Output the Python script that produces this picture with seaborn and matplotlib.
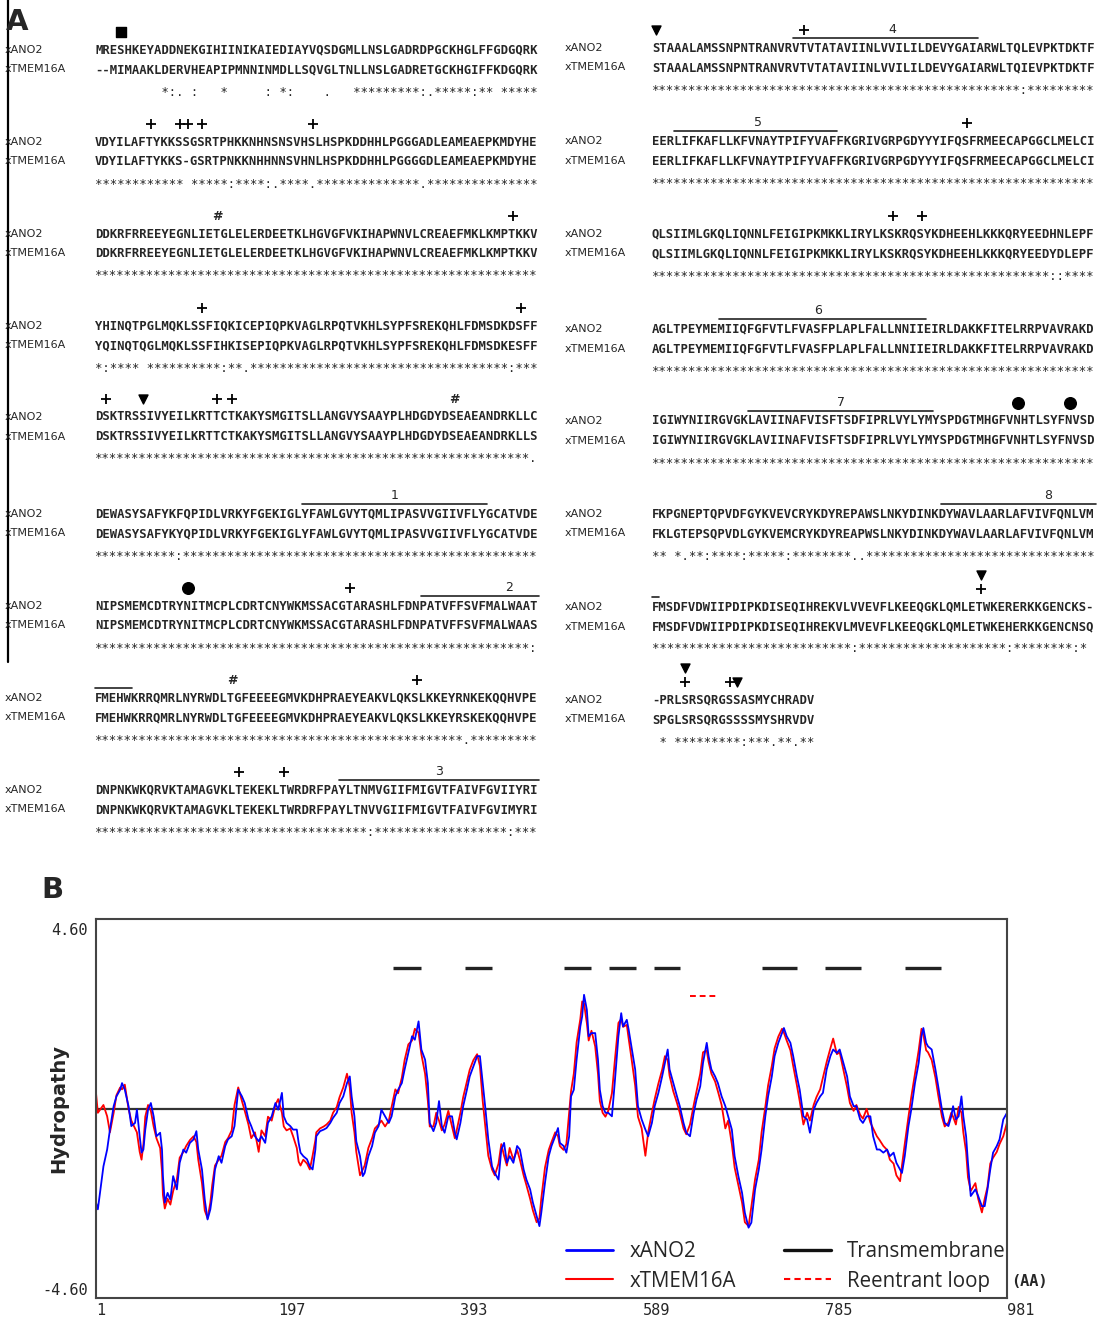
import matplotlib
matplotlib.use('Agg')
import numpy as np
import pandas as pd
import matplotlib.pyplot as plt
from matplotlib.lines import Line2D
import seaborn as sns

# #
# Panel A: alignment blocks (left column 0-8, right column 9-16)
ano2_rows = [
    "MRESHKEYADDNEKGIHIINIKAIEDIAYVQSDGMLLNSLGADRDPGCKHGLFFGDGQRK",
    "VDYILAFTYKKSSGSRTPHKKNHNSNSVHSLHSPKDDHHLPGGGADLEAMEAEPKMDYHE",
    "DDKRFRREEYEGNLIETGLELERDEETKLHGVGFVKIHAPWNVLCREAEFMKLKMPTKKV",
    "YHINQTPGLMQKLSSFIQKICEPIQPKVAGLRPQTVKHLSYPFSREKQHLFDMSDKDSFF",
    "DSKTRSSIVYEILKRTTCTKAKYSMGITSLLANGVYSAAYPLHDGDYDSEAEANDRKLLC",
    "DEWASYSAFYKFQPIDLVRKYFGEKIGLYFAWLGVYTQMLIPASVVGIIVFLYGCATVDE",
    "NIPSMEMCDTRYNITMCPLCDRTCNYWKMSSACGTARASHLFDNPATVFFSVFMALWAAT",
    "FMEHWKRRQMRLNYRWDLTGFEEEEGMVKDHPRAEYEAKVLQKSLKKEYRNKEKQQHVPE",
    "DNPNKWKQRVKTAMAGVKLTEKEKLTWRDRFPAYLTNMVGIIFMIGVTFAIVFGVIIYRI",
    "STAAALAMSSNPNTRANVRVTVTATAVIINLVVILILDEVYGAIARWLTQLEVPKTDKTF",
    "EERLIFKAFLLKFVNAYTPIFYVAFFKGRIVGRPGDYYYIFQSFRMEECAPGGCLMELCI",
    "QLSIIMLGKQLIQNNLFEIGIPKMKKLIRYLKSKRQSYKDHEEHLKKKQRYEEDHNLEPF",
    "AGLTPEYMEMIIQFGFVTLFVASFPLAPLFALLNNIIEIRLDAKKFITELRRPVAVRAKD",
    "IGIWYNIIRGVGKLAVIINAFVISFTSDFIPRLVYLYMYSPDGTMHGFVNHTLSYFNVSD",
    "FKPGNEPTQPVDFGYKVEVCRYKDYREPAWSLNKYDINKDYWAVLAARLAFVIVFQNLVM",
    "FMSDFVDWIIPDIPKDISEQIHREKVLVVEVFLKEEQGKLQMLETWKERERKKGENCKS-",
    "-PRLSRSQRGSSASMYCHRADV",
]
tmem_rows = [
    "--MIMAAKLDERVHEAPIPMNNINMDLLSQVGLTNLLNSLGADRETGCKHGIFFKDGQRK",
    "VDYILAFTYKKS-GSRTPNKKNHHNNSVHNLHSPKDDHHLPGGGGDLEAMEAEPKMDYHE",
    "DDKRFRREEYEGNLIETGLELERDEETKLHGVGFVKIHAPWNVLCREAEFMKLKMPTKKV",
    "YQINQTQGLMQKLSSFIHKISEPIQPKVAGLRPQTVKHLSYPFSREKQHLFDMSDKESFF",
    "DSKTRSSIVYEILKRTTCTKAKYSMGITSLLANGVYSAAYPLHDGDYDSEAEANDRKLLS",
    "DEWASYSAFYKYQPIDLVRKYFGEKIGLYFAWLGVYTQMLIPASVVGIIVFLYGCATVDE",
    "NIPSMEMCDTRYNITMCPLCDRTCNYWKMSSACGTARASHLFDNPATVFFSVFMALWAAS",
    "FMEHWKRRQMRLNYRWDLTGFEEEEGMVKDHPRAEYEAKVLQKSLKKEYRSKEKQQHVPE",
    "DNPNKWKQRVKTAMAGVKLTEKEKLTWRDRFPAYLTNVVGIIFMIGVTFAIVFGVIMYRI",
    "STAAALAMSSNPNTRANVRVTVTATAVIINLVVILILDEVYGAIARWLTQIEVPKTDKTF",
    "EERLIFKAFLLKFVNAYTPIFYVAFFKGRIVGRPGDYYYIFQSFRMEECAPGGCLMELCI",
    "QLSIIMLGKQLIQNNLFEIGIPKMKKLIRYLKSKRQSYKDHEEHLKKKQRYEEDYDLEPF",
    "AGLTPEYMEMIIQFGFVTLFVASFPLAPLFALLNNIIEIRLDAKKFITELRRPVAVRAKD",
    "IGIWYNIIRGVGKLAVIINAFVISFTSDFIPRLVYLYMYSPDGTMHGFVNHTLSYFNVSD",
    "FKLGTEPSQPVDLGYKVEMCRYKDYREAPWSLNKYDINKDYWAVLAARLAFVIVFQNLVM",
    "FMSDFVDWIIPDIPKDISEQIHREKVLMVEVFLKEEQGKLQMLETWKEHERKKGENCNSQ",
    "SPGLSRSQRGSSSSMYSHRVDV",
]
cons_rows = [
    " " * 9 + "*:. :" + " " * 3 + "*" + " " * 5 + ": *:" + " " * 4 + "." + " " * 3
    + "*" * 9 + ":." + "*" * 5 + ":** " + "*" * 5,
    "*" * 12 + " " + "*" * 5 + ":" + "*" * 4 + ":." + "*" * 4 + "." + "*" * 14 + "." + "*" * 15,
    "*" * 60,
    "*:**** " + "*" * 10 + ":**." + "*" * 35 + ":***",
    "*" * 59 + ".",
    "*" * 11 + ":" + "*" * 48,
    "*" * 59 + ":",
    "*" * 50 + "." + "*" * 9,
    "*" * 37 + ":" + "*" * 18 + ":***",
    "*" * 50 + ":" + "*" * 9,
    "*" * 60,
    "*" * 54 + "::" + "*" * 4,
    "*" * 60,
    "*" * 60,
    "** *.**:****:*****:********.." + "*" * 31,
    "*" * 27 + ":" + "*" * 20 + ":" + "*" * 8 + ":* ",
    " * *********:***.**.**",
]
# (block, column, symbol, tier)
site_marks = [
    (0, 3, 's', 0),
    (1, 7, '+', 0), (1, 11, '+', 0), (1, 12, '+', 0), (1, 14, '+', 0), (1, 29, '+', 0),
    (2, 16, '#', 0), (2, 56, '+', 0),
    (3, 14, '+', 0), (3, 57, '+', 0),
    (4, 1, '+', 0), (4, 6, 'v', 0), (4, 16, '+', 0), (4, 18, '+', 0), (4, 48, '#', 0),
    (6, 12, 'o', 0), (6, 34, '+', 0),
    (7, 18, '#', 0), (7, 43, '+', 0),
    (8, 19, '+', 0), (8, 25, '+', 0),
    (9, 0, 'v', 0), (9, 20, '+', 0),
    (10, 42, '+', 0),
    (11, 32, '+', 0), (11, 36, '+', 0),
    (13, 49, 'o', 0), (13, 56, 'o', 0),
    (15, 44, '+', 0), (15, 44, 'v', 1),
    (16, 4, '+', 0), (16, 4, 'v', 1), (16, 10, '+', 0), (16, 11, 'v', 0),
]
# (block, first col, last col, label, label col)
tm_bars = [
    (5, 28, 52, '1', 40),
    (6, 44, 59, '2', 55.5),
    (7, 0, 4, '', None),
    (8, 33, 59, '3', 46),
    (9, 19, 43, '4', 32),
    (10, 3, 24, '5', 13.8),
    (12, 9, 36, '6', 22),
    (13, 13, 37, '7', 25),
    (14, 39, 59, '8', 53),
    (15, 0, 0, '', None),
]

# #
# Panel B: hydropathy profiles
aa_pos = [
    1, 3, 9, 13, 16, 20, 23, 27, 29, 32, 36, 39, 43, 45, 48, 50, 52, 54, 57, 60,
    63, 66, 70, 72, 73, 75, 78, 81, 84, 88, 91, 95, 98, 102, 106, 109, 111, 115, 118, 121,
    124, 126, 129, 133, 136, 140, 143, 147, 150, 154, 158, 161, 165, 168, 172, 176, 179, 183, 186, 190,
    194, 197, 201, 203, 206, 210, 213, 217, 219, 221, 224, 228, 231, 234, 237, 238, 242, 246, 249, 253,
    256, 260, 263, 267, 271, 274, 276, 279, 281, 285, 288, 290, 294, 298, 301, 305, 308, 312, 316, 319,
    323, 326, 330, 333, 337, 341, 344, 348, 351, 355, 358, 360, 364, 367, 370, 373, 376, 380, 384, 387,
    389, 393, 396, 400, 403, 407, 411, 414, 417, 420, 423, 427, 430, 434, 437, 440, 443, 446, 450, 454,
    457, 461, 464, 468, 471, 475, 478, 480, 484, 488, 491, 495, 498, 500, 504, 507, 510, 512, 515, 518,
    522, 524, 526, 529, 531, 534, 538, 541, 543, 546, 549, 552, 556, 559, 563, 566, 568, 572, 574, 577,
    581, 584, 588, 592, 595, 599, 602, 606, 610, 613, 616, 618, 622, 626, 629, 633, 636, 640, 644, 647,
    651, 654, 658, 660, 663, 667, 670, 674, 678, 681, 685, 688, 692, 696, 699, 703, 706, 710, 714, 717,
    721, 724, 728, 731, 735, 739, 741, 744, 748, 751, 755, 758, 762, 766, 769, 773, 776, 780, 783, 787,
    791, 794, 798, 801, 805, 809, 812, 816, 819, 823, 826, 830, 834, 837, 841, 844, 848, 852, 855, 859,
    862, 866, 868, 871, 875, 878, 882, 886, 889, 891, 894, 896, 900, 904, 907, 911, 914, 918, 921, 923,
    926, 929, 932, 934, 937, 939, 942, 947, 950, 954, 957, 960, 963, 966, 970, 973, 977, 981,
]
ano2_hyd = [
    -2.40, -2.57, -1.47, -1.04, -0.53, 0.07, 0.32, 0.49, 0.66, 0.49, 0.07, -0.44, -0.36, -0.02, -0.70, -1.12, -1.04, -0.53, -0.02, 0.15,
    -0.19, -0.70, -0.61, -1.04, -1.72, -2.40, -2.15, -2.32, -1.72, -2.06, -1.38, -1.04, -1.12, -0.87, -0.78, -0.57, -1.04, -1.55, -2.32, -2.83,
    -2.57, -2.23, -1.55, -1.21, -1.38, -0.95, -0.78, -0.70, -0.44, 0.49, 0.32, 0.15, -0.27, -0.44, -0.70, -0.83, -0.70, -0.87, -0.36, -0.19,
    0.15, -0.02, 0.41, -0.19, -0.36, -0.44, -0.53, -0.53, -0.87, -1.12, -1.21, -1.29, -1.47, -1.55, -1.04, -0.70, -0.57, -0.53, -0.49, -0.36,
    -0.23, -0.10, 0.15, 0.32, 0.66, 0.83, 0.32, -0.19, -0.83, -1.21, -1.72, -1.64, -1.21, -0.95, -0.61, -0.44, -0.02, -0.19, -0.36, -0.19,
    0.32, 0.49, 0.66, 1.01, 1.43, 1.86, 1.77, 2.24, 1.52, 1.26, 0.66, -0.36, -0.57, -0.36, 0.20, -0.44, -0.61, -0.19, -0.19, -0.61,
    -0.78, -0.36, 0.07, 0.49, 0.83, 1.09, 1.35, 1.35, 0.66, -0.02, -0.78, -1.47, -1.64, -1.81, -1.04, -0.87, -1.38, -1.21, -1.38, -0.95,
    -1.04, -1.55, -1.81, -2.06, -2.40, -2.74, -3.00, -2.66, -1.89, -1.21, -0.95, -0.70, -0.49, -0.87, -0.95, -1.12, -0.70, 0.32, 0.49, 1.26,
    2.11, 2.37, 2.92, 2.54, 1.86, 1.94, 1.94, 1.26, 0.49, 0.07, -0.10, -0.10, -0.19, 0.66, 1.86, 2.45, 2.11, 2.28, 2.03, 1.60,
    1.01, 0.07, -0.27, -0.53, -0.70, -0.36, 0.07, 0.41, 0.83, 1.18, 1.52, 1.01, 0.66, 0.32, 0.07, -0.36, -0.61, -0.70, -0.10, 0.24,
    0.58, 1.18, 1.69, 1.35, 1.01, 0.83, 0.66, 0.32, 0.07, -0.19, -0.53, -1.21, -1.72, -2.15, -2.66, -3.04, -2.91, -2.06, -1.55, -1.04,
    -0.19, 0.32, 0.83, 1.35, 1.69, 1.94, 2.07, 1.86, 1.69, 1.35, 0.83, 0.49, -0.19, -0.27, -0.61, -0.02, 0.15, 0.32, 0.41, 1.01,
    1.35, 1.52, 1.43, 1.52, 1.18, 0.83, 0.32, 0.07, 0.07, -0.27, -0.36, -0.19, -0.19, -0.70, -1.04, -1.04, -1.12, -1.04, -1.21, -1.12,
    -1.38, -1.55, -1.64, -1.21, -0.44, -0.02, 0.66, 1.18, 1.86, 2.07, 1.69, 1.60, 1.52, 1.01, 0.58, -0.02, -0.36, -0.44, -0.19, 0.07,
    -0.27, -0.19, 0.32, -0.19, -0.70, -1.38, -2.23, -2.06, -2.23, -2.49, -2.49, -2.06, -1.55, -1.12, -0.95, -0.78, -0.27, -0.10,
]
tmem_hyd = [
    0.41, -0.10, 0.10, -0.19, -0.60, -0.10, 0.35, 0.55, 0.50, 0.62, 0.00, -0.30, -0.50, -0.60, -1.10, -1.30, -0.90, -0.20, 0.10, -0.05,
    -0.45, -0.75, -1.00, -1.60, -2.20, -2.55, -2.30, -2.45, -2.10, -1.80, -1.25, -1.10, -0.95, -0.80, -0.70, -0.85, -1.30, -1.90, -2.60, -2.80,
    -2.40, -1.95, -1.45, -1.30, -1.20, -0.85, -0.75, -0.55, 0.10, 0.55, 0.20, -0.05, -0.40, -0.75, -0.60, -1.10, -0.55, -0.70, -0.20, -0.30,
    0.10, 0.25, -0.10, -0.45, -0.55, -0.50, -0.70, -1.00, -1.35, -1.45, -1.30, -1.40, -1.55, -1.20, -0.80, -0.60, -0.50, -0.45, -0.40, -0.30,
    -0.10, 0.05, 0.30, 0.55, 0.90, 0.55, -0.10, -0.60, -1.10, -1.70, -1.55, -1.45, -1.00, -0.75, -0.50, -0.40, -0.30, -0.45, -0.30, 0.05,
    0.50, 0.40, 0.80, 1.25, 1.65, 1.75, 2.05, 1.95, 1.40, 0.90, 0.20, -0.45, -0.45, -0.10, -0.30, -0.55, -0.40, -0.05, -0.45, -0.75,
    -0.55, -0.10, 0.30, 0.70, 1.00, 1.25, 1.40, 1.10, 0.20, -0.50, -1.20, -1.55, -1.70, -1.40, -0.90, -1.20, -1.45, -1.00, -1.30, -1.05,
    -1.30, -1.70, -1.95, -2.30, -2.60, -2.90, -2.80, -2.30, -1.50, -1.05, -0.85, -0.60, -0.70, -0.95, -1.05, -0.90, -0.10, 0.45, 0.90, 1.70,
    2.30, 2.75, 2.70, 2.20, 1.75, 2.00, 1.60, 0.90, 0.20, -0.10, -0.20, -0.05, 0.40, 1.20, 2.20, 2.30, 2.10, 2.15, 1.80, 1.30,
    0.60, -0.20, -0.50, -1.20, -0.60, -0.10, 0.25, 0.65, 1.00, 1.35, 1.25, 0.85, 0.45, 0.15, -0.10, -0.50, -0.65, -0.40, 0.10, 0.45,
    0.90, 1.45, 1.50, 1.20, 0.90, 0.70, 0.45, 0.10, -0.50, -0.30, -0.90, -1.50, -1.95, -2.40, -2.90, -3.00, -2.50, -1.80, -1.30, -0.60,
    0.05, 0.60, 1.10, 1.55, 1.85, 2.05, 1.95, 1.75, 1.50, 1.10, 0.60, 0.20, -0.40, -0.10, -0.30, 0.10, 0.30, 0.50, 0.80, 1.20,
    1.55, 1.80, 1.40, 1.45, 1.00, 0.55, 0.15, -0.05, 0.10, -0.15, -0.25, 0.00, -0.35, -0.50, -0.70, -0.80, -0.95, -1.05, -1.30, -1.40,
    -1.70, -1.85, -1.45, -0.90, -0.20, 0.30, 0.90, 1.50, 2.05, 1.90, 1.50, 1.45, 1.25, 0.80, 0.35, -0.20, -0.45, -0.35, -0.10, -0.20,
    -0.40, 0.05, -0.10, -0.60, -1.10, -1.75, -2.10, -1.90, -2.30, -2.65, -2.30, -2.00, -1.40, -1.25, -1.10, -0.90, -0.70, -0.35,
]
tm_starts = [321, 398, 504, 553, 601, 717, 785, 871]
tm_ends = [351, 427, 533, 582, 629, 755, 824, 910]
reentrant_span = [640, 668]
tm_level = 3.6
reentrant_level = 2.9
x_ticks = [1, 197, 393, 589, 785, 981]


sns.set_style('white')
plt.rcParams['font.family'] = ['DejaVu Sans']

fig = plt.figure(figsize=(11, 13.18), dpi=100)

# overlay in pixel coordinates for the alignment text
top = fig.add_axes([0, 0, 1, 1])
top.set_xlim(0, 1100)
top.set_ylim(1318, 0)
top.axis('off')

row_y = [49, 141, 233, 325, 416, 513, 605, 697, 789,
         47, 140, 233, 328, 420, 513, 606, 699]
cw = 7.4
mono = 'DejaVu Sans Mono'
seq_fs = cw / 0.6021 * 72 / 100

def col_start(b):
    return 95 if b < 9 else 652

def col_x(b, c):
    return col_start(b) + (c + 0.5) * cw

for b, y in enumerate(row_y):
    x0 = col_start(b)
    nx = 5 if b < 9 else 565
    top.text(nx, y + 4, 'xANO2', fontsize=8, va='baseline')
    top.text(nx, y + 23.5, 'xTMEM16A', fontsize=8, va='baseline')
    top.text(x0, y + 4.5, ano2_rows[b], family=mono, fontsize=seq_fs, va='baseline',
             fontweight='bold')
    top.text(x0, y + 24, tmem_rows[b], family=mono, fontsize=seq_fs, va='baseline',
             fontweight='bold')
    top.text(x0, y + 46.5, cons_rows[b], family=mono, fontsize=seq_fs, va='baseline')

marker_kw = {'+': dict(marker='+', s=45, linewidths=1.3),
             'v': dict(marker='v', s=42),
             'o': dict(marker='o', s=70),
             's': dict(marker='s', s=45)}
for b, c, sym, tier in site_marks:
    x = col_x(b, c)
    y = row_y[b] - 17 - 14 * tier
    if sym == '#':
        top.text(x, y + 4, '#', fontsize=9, ha='center', va='baseline', fontweight='bold')
    else:
        top.scatter([x], [y], color='black', **marker_kw[sym])

for b, c1, c2, lab, lc in tm_bars:
    x0 = col_start(b)
    y = row_y[b] - 9
    top.plot([x0 + c1 * cw, x0 + (c2 + 1) * cw], [y, y], color='#222222', lw=1.2)
    if lab:
        top.text(col_x(b, lc), y - 5, lab, fontsize=9, ha='center', va='baseline')

top.plot([8, 8], [0, 662], color='black', lw=1.6)
top.text(6, 30, 'A', fontsize=21, fontweight='bold', va='baseline')
top.text(41, 898, 'B', fontsize=21, fontweight='bold', va='baseline')

# hydropathy plot
ax = fig.add_axes([96 / 1100, 20 / 1318, 911 / 1100, 379 / 1318])
hyd = pd.DataFrame({'aa': aa_pos, 'xANO2': ano2_hyd, 'xTMEM16A': tmem_hyd})
sns.lineplot(data=hyd, x='aa', y='xTMEM16A', color='#ff0000', lw=1.3, ax=ax)
sns.lineplot(data=hyd, x='aa', y='xANO2', color='#0000ff', lw=1.3, ax=ax)
ax.axhline(0, color='#333333', lw=1.6, zorder=1)
ax.hlines([tm_level] * len(tm_starts), tm_starts, tm_ends, color='#222222', lw=2.4)
ax.plot(reentrant_span, [reentrant_level] * 2, color='#ff0000', lw=1.4, ls=(0, (3, 2)))

ax.set_xlim(1, 981)
ax.set_ylim(-4.84, 4.86)
ax.set_xticks(x_ticks)
ax.set_xticklabels([str(t) for t in x_ticks], ha='left', family=mono, fontsize=11)
ax.set_yticks([-4.6, 4.6])
ax.set_yticklabels(['-4.60', '4.60'], family=mono, fontsize=11)
ax.tick_params(axis='x', direction='inout', length=5, width=1, pad=1)
ax.tick_params(axis='y', length=0, pad=6)
ax.set_xlabel('')
ax.set_ylabel('Hydropathy', fontsize=14, fontweight='bold')
ax.yaxis.set_label_coords(-0.031, 0.5)
for sp in ax.spines.values():
    sp.set_color('#444444')
    sp.set_linewidth(1.5)

handles = [Line2D([], [], color='#0000ff', lw=2),
           Line2D([], [], color='#ff0000', lw=1.5),
           Line2D([], [], color='#111111', lw=2.4),
           Line2D([], [], color='#ff0000', lw=1.5, ls=(0, (3, 2)))]
ax.legend(handles, ['xANO2', 'xTMEM16A', 'Transmembrane', 'Reentrant loop'],
          ncol=2, loc='lower right', bbox_to_anchor=(1.008, -0.005), frameon=False,
          prop={'family': 'Open Sans', 'size': 14.8}, handlelength=2.3,
          handletextpad=0.8, columnspacing=2.3, labelspacing=0.42, borderaxespad=0.0)

top.text(1011, 1281, '(AA)', family=mono, fontsize=11, fontweight='bold', va='center')

fig.savefig('out.png', dpi=100)
